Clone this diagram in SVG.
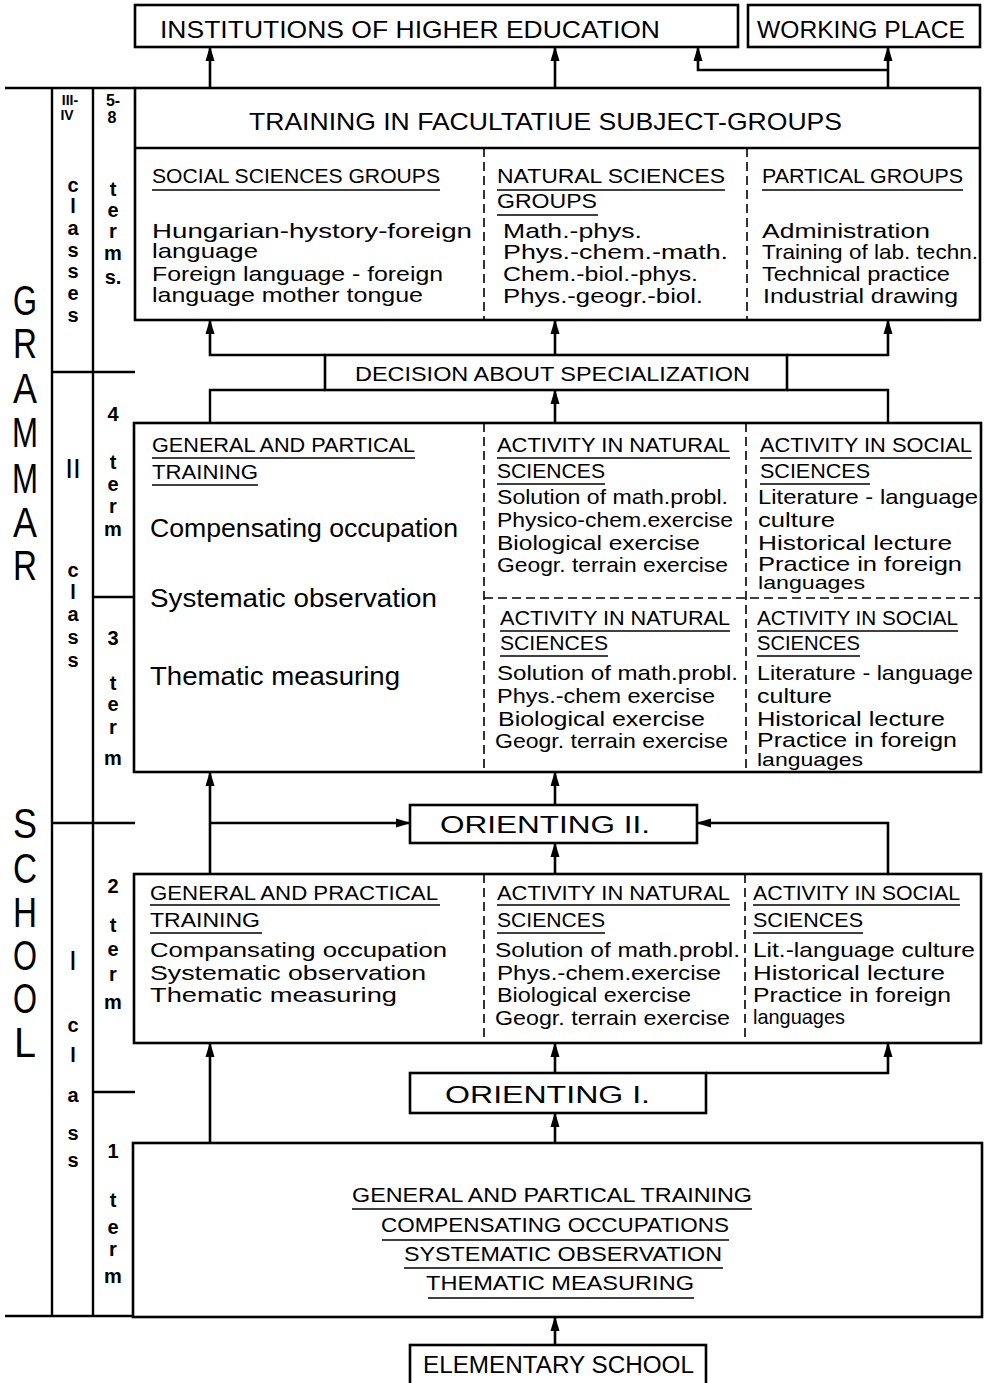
<svg xmlns="http://www.w3.org/2000/svg" width="985" height="1383" viewBox="0 0 985 1383">
<defs>
<marker id="ah" markerUnits="userSpaceOnUse" markerWidth="15" markerHeight="10" refX="14" refY="5" orient="auto">
<path d="M0,0.5 L15,5 L0,9.5 z" fill="#000"/>
</marker>
<style>
.bx{fill:#fff;stroke:#000;stroke-width:2.6}
.ln{fill:none;stroke:#000;stroke-width:2.4}
.ds{fill:none;stroke:#000;stroke-width:1.6;stroke-dasharray:9 5}
.ul{fill:none;stroke:#000;stroke-width:1.6}
.ar{fill:none;stroke:#000;stroke-width:2.6;marker-end:url(#ah)}
text{font-family:"Liberation Sans",Arial,sans-serif;fill:#000}
.h{font-size:24px}
.c{font-size:20px}
.b{font-size:21px}
.big{font-size:26px}
.G{font-size:42px;text-anchor:middle}
.lb{font-size:20px;font-weight:bold;text-anchor:middle}
.sm{font-size:14px;font-weight:bold;text-anchor:middle}
</style>
</defs>
<rect width="985" height="1383" fill="#fff"/>

<g id="frame">
<path class="ln" d="M5,88 H135 M52,88 V1316 M93,88 V1316 M5,1316 H135 M52,372 H135 M93,597 H135 M52,823 H135 M93,1092 H135"/>
<g id="school-label">
<text class="G" x="25" y="315" textLength="24" lengthAdjust="spacingAndGlyphs">G</text>
<text class="G" x="25" y="358" textLength="24" lengthAdjust="spacingAndGlyphs">R</text>
<text class="G" x="25" y="403" textLength="24" lengthAdjust="spacingAndGlyphs">A</text>
<text class="G" x="25" y="447" textLength="26" lengthAdjust="spacingAndGlyphs">M</text>
<text class="G" x="25" y="493" textLength="26" lengthAdjust="spacingAndGlyphs">M</text>
<text class="G" x="25" y="537" textLength="24" lengthAdjust="spacingAndGlyphs">A</text>
<text class="G" x="25" y="580" textLength="24" lengthAdjust="spacingAndGlyphs">R</text>
<text class="G" x="25" y="838" textLength="24" lengthAdjust="spacingAndGlyphs">S</text>
<text class="G" x="25" y="883" textLength="24" lengthAdjust="spacingAndGlyphs">C</text>
<text class="G" x="25" y="927" textLength="24" lengthAdjust="spacingAndGlyphs">H</text>
<text class="G" x="25" y="970" textLength="24" lengthAdjust="spacingAndGlyphs">O</text>
<text class="G" x="25" y="1013" textLength="24" lengthAdjust="spacingAndGlyphs">O</text>
<text class="G" x="25" y="1057" textLength="22" lengthAdjust="spacingAndGlyphs">L</text>
</g>
<g id="class-labels">
<text class="sm" x="70" y="105">III-</text>
<text class="sm" x="67" y="120">IV</text>
<text class="lb" x="73" y="192">c</text>
<text class="lb" x="73" y="213">l</text>
<text class="lb" x="73" y="235">a</text>
<text class="lb" x="73" y="257">s</text>
<text class="lb" x="73" y="278">s</text>
<text class="lb" x="73" y="300">e</text>
<text class="lb" x="73" y="322">s</text>
<text class="lb" x="73" y="478" style="font-size:28px;font-weight:normal">II</text>
<text class="lb" x="73" y="577">c</text>
<text class="lb" x="73" y="599">l</text>
<text class="lb" x="73" y="621">a</text>
<text class="lb" x="73" y="644">s</text>
<text class="lb" x="73" y="667">s</text>
<text class="lb" x="73" y="970" style="font-size:28px;font-weight:normal">I</text>
<text class="lb" x="73" y="1032">c</text>
<text class="lb" x="73" y="1062">l</text>
<text class="lb" x="73" y="1102">a</text>
<text class="lb" x="73" y="1140">s</text>
<text class="lb" x="73" y="1167">s</text>
</g>
<g id="term-labels">
<text class="sm" x="113" y="106" style="font-size:16px">5-</text>
<text class="sm" x="112" y="123" style="font-size:16px">8</text>
<text class="lb" x="113" y="196">t</text>
<text class="lb" x="113" y="217">e</text>
<text class="lb" x="113" y="238">r</text>
<text class="lb" x="113" y="260">m</text>
<text class="lb" x="113" y="284">s.</text>
<text class="lb" x="113" y="421">4</text>
<text class="lb" x="113" y="469">t</text>
<text class="lb" x="113" y="491">e</text>
<text class="lb" x="113" y="513">r</text>
<text class="lb" x="113" y="536">m</text>
<text class="lb" x="113" y="645">3</text>
<text class="lb" x="113" y="690">t</text>
<text class="lb" x="113" y="711">e</text>
<text class="lb" x="113" y="734">r</text>
<text class="lb" x="113" y="765">m</text>
<text class="lb" x="113" y="893">2</text>
<text class="lb" x="113" y="932">t</text>
<text class="lb" x="113" y="956">e</text>
<text class="lb" x="113" y="981">r</text>
<text class="lb" x="113" y="1009">m</text>
<text class="lb" x="113" y="1158">1</text>
<text class="lb" x="113" y="1207">t</text>
<text class="lb" x="113" y="1234">e</text>
<text class="lb" x="113" y="1256">r</text>
<text class="lb" x="113" y="1283">m</text>
</g>
</g>

<g id="connectors">
<path class="ar" d="M210,88 V47"/>
<path class="ar" d="M555,88 V47"/>
<path class="ar" d="M888,88 V47"/>
<path class="ar" d="M888,70 H698 V47"/>
<path class="ar" d="M325,355 H210 V320"/>
<path class="ar" d="M787,355 H888 V320"/>
<path class="ar" d="M555,355 V320"/>
<path class="ln" d="M210,423 V390 H325"/>
<path class="ln" d="M888,423 V390 H787"/>
<path class="ar" d="M555,423 V390"/>
<path class="ar" d="M625,607 V578"/>
<path class="ar" d="M881,608 V579"/>
<path class="ar" d="M210,874 V772"/>
<path class="ar" d="M210,823 H410"/>
<path class="ar" d="M888,874 V823 H697"/>
<path class="ar" d="M555,805 V772"/>
<path class="ar" d="M555,874 V843"/>
<path class="ar" d="M210,1143 V1043"/>
<path class="ar" d="M555,1143 V1113"/>
<path class="ar" d="M555,1073 V1043"/>
<path class="ar" d="M706,1073 H888 V1043"/>
<path class="ar" d="M555,1345 V1317"/>
</g>

<g id="n-higher-education">
<rect class="bx" x="135" y="5" width="603" height="42"/>
<text class="h" x="160" y="38" textLength="500" lengthAdjust="spacingAndGlyphs">INSTITUTIONS OF HIGHER EDUCATION</text>
</g>
<g id="n-working-place">
<rect class="bx" x="748" y="5" width="232" height="42"/>
<text class="h" x="757" y="38" textLength="208" lengthAdjust="spacingAndGlyphs">WORKING PLACE</text>
</g>

<g id="n-facultative">
<rect class="bx" x="135" y="88" width="845" height="232"/>
<path class="ln" d="M135,148 H980"/>
<path class="ds" d="M484,148 V320 M747,148 V320"/>
<text class="h" x="249" y="130" textLength="593" lengthAdjust="spacingAndGlyphs">TRAINING IN FACULTATIUE SUBJECT-GROUPS</text>
<text class="c" x="152" y="183" textLength="288" lengthAdjust="spacingAndGlyphs">SOCIAL SCIENCES GROUPS</text>
<path class="ul" d="M152,190 H440"/>
<text class="b" x="152" y="238" textLength="320" lengthAdjust="spacingAndGlyphs">Hungarian-hystory-foreign</text>
<text class="b" x="152" y="258" textLength="106" lengthAdjust="spacingAndGlyphs">language</text>
<text class="b" x="152" y="281" textLength="291" lengthAdjust="spacingAndGlyphs">Foreign language - foreign</text>
<text class="b" x="152" y="302" textLength="271" lengthAdjust="spacingAndGlyphs">language mother tongue</text>
<text class="c" x="497" y="183" textLength="228" lengthAdjust="spacingAndGlyphs">NATURAL SCIENCES</text>
<path class="ul" d="M497,190 H725"/>
<text class="c" x="497" y="208" textLength="100" lengthAdjust="spacingAndGlyphs">GROUPS</text>
<path class="ul" d="M497,215 H598"/>
<text class="b" x="503" y="238" textLength="139" lengthAdjust="spacingAndGlyphs">Math.-phys.</text>
<text class="b" x="503" y="259" textLength="225" lengthAdjust="spacingAndGlyphs">Phys.-chem.-math.</text>
<text class="b" x="503" y="281" textLength="195" lengthAdjust="spacingAndGlyphs">Chem.-biol.-phys.</text>
<text class="b" x="503" y="303" textLength="200" lengthAdjust="spacingAndGlyphs">Phys.-geogr.-biol.</text>
<text class="c" x="762" y="183" textLength="201" lengthAdjust="spacingAndGlyphs">PARTICAL GROUPS</text>
<path class="ul" d="M762,190 H963"/>
<text class="b" x="762" y="238" textLength="168" lengthAdjust="spacingAndGlyphs">Administration</text>
<text class="b" x="762" y="259" textLength="216" lengthAdjust="spacingAndGlyphs">Training of lab. techn.</text>
<text class="b" x="762" y="281" textLength="188" lengthAdjust="spacingAndGlyphs">Technical practice</text>
<text class="b" x="763" y="303" textLength="195" lengthAdjust="spacingAndGlyphs">Industrial drawing</text>
</g>

<g id="n-decision">
<rect class="bx" x="325" y="355" width="462" height="35"/>
<text class="c" x="355" y="381" textLength="395" lengthAdjust="spacingAndGlyphs" style="font-size:21px">DECISION ABOUT SPECIALIZATION</text>
</g>

<g id="n-class2">
<rect class="bx" x="134" y="423" width="847" height="349"/>
<path class="ds" d="M484,423 V772 M746,423 V772 M484,598 H981"/>
<text class="c" x="152" y="452" textLength="263" lengthAdjust="spacingAndGlyphs">GENERAL AND PARTICAL</text>
<path class="ul" d="M152,458 H415"/>
<text class="c" x="152" y="479" textLength="106" lengthAdjust="spacingAndGlyphs">TRAINING</text>
<path class="ul" d="M152,485 H258"/>
<text class="big" x="150" y="537" textLength="308" lengthAdjust="spacingAndGlyphs">Compensating occupation</text>
<text class="big" x="150" y="607" textLength="287" lengthAdjust="spacingAndGlyphs">Systematic observation</text>
<text class="big" x="150" y="685" textLength="250" lengthAdjust="spacingAndGlyphs">Thematic measuring</text>
<text class="c" x="497" y="452" textLength="233" lengthAdjust="spacingAndGlyphs">ACTIVITY IN NATURAL</text>
<path class="ul" d="M497,458 H730"/>
<text class="c" x="497" y="478" textLength="108" lengthAdjust="spacingAndGlyphs">SCIENCES</text>
<path class="ul" d="M497,484 H605"/>
<text class="b" x="497" y="504" textLength="231" lengthAdjust="spacingAndGlyphs">Solution of math.probl.</text>
<text class="b" x="497" y="527" textLength="236" lengthAdjust="spacingAndGlyphs">Physico-chem.exercise</text>
<text class="b" x="497" y="550" textLength="203" lengthAdjust="spacingAndGlyphs">Biological exercise</text>
<text class="b" x="497" y="572" textLength="231" lengthAdjust="spacingAndGlyphs">Geogr. terrain exercise</text>
<text class="c" x="760" y="452" textLength="212" lengthAdjust="spacingAndGlyphs">ACTIVITY IN SOCIAL</text>
<path class="ul" d="M760,458 H972"/>
<text class="c" x="760" y="478" textLength="110" lengthAdjust="spacingAndGlyphs">SCIENCES</text>
<path class="ul" d="M760,484 H870"/>
<text class="b" x="758" y="504" textLength="220" lengthAdjust="spacingAndGlyphs">Literature - language</text>
<text class="b" x="758" y="527" textLength="77" lengthAdjust="spacingAndGlyphs">culture</text>
<text class="b" x="758" y="550" textLength="194" lengthAdjust="spacingAndGlyphs">Historical lecture</text>
<text class="b" x="758" y="571" textLength="204" lengthAdjust="spacingAndGlyphs">Practice in foreign</text>
<text class="b" x="758" y="589" textLength="107" lengthAdjust="spacingAndGlyphs" style="font-size:18px">languages</text>
<text class="c" x="500" y="625" textLength="230" lengthAdjust="spacingAndGlyphs">ACTIVITY IN NATURAL</text>
<path class="ul" d="M500,631 H730"/>
<text class="c" x="500" y="650" textLength="108" lengthAdjust="spacingAndGlyphs">SCIENCES</text>
<path class="ul" d="M500,656 H608"/>
<text class="b" x="497" y="680" textLength="241" lengthAdjust="spacingAndGlyphs">Solution of math.probl.</text>
<text class="b" x="497" y="703" textLength="218" lengthAdjust="spacingAndGlyphs">Phys.-chem exercise</text>
<text class="b" x="498" y="726" textLength="207" lengthAdjust="spacingAndGlyphs">Biological exercise</text>
<text class="b" x="495" y="748" textLength="233" lengthAdjust="spacingAndGlyphs">Geogr. terrain exercise</text>
<text class="c" x="757" y="625" textLength="201" lengthAdjust="spacingAndGlyphs">ACTIVITY IN SOCIAL</text>
<path class="ul" d="M757,631 H958"/>
<text class="c" x="757" y="650" textLength="103" lengthAdjust="spacingAndGlyphs">SCIENCES</text>
<path class="ul" d="M757,656 H860"/>
<text class="b" x="757" y="680" textLength="216" lengthAdjust="spacingAndGlyphs">Literature - language</text>
<text class="b" x="757" y="703" textLength="75" lengthAdjust="spacingAndGlyphs">culture</text>
<text class="b" x="757" y="726" textLength="188" lengthAdjust="spacingAndGlyphs">Historical lecture</text>
<text class="b" x="757" y="747" textLength="200" lengthAdjust="spacingAndGlyphs">Practice in foreign</text>
<text class="b" x="757" y="766" textLength="106" lengthAdjust="spacingAndGlyphs" style="font-size:18px">languages</text>
</g>

<g id="n-orienting2">
<rect class="bx" x="410" y="805" width="287" height="38"/>
<text class="b" x="440" y="833" textLength="210" lengthAdjust="spacingAndGlyphs" style="font-size:23px">ORIENTING  II.</text>
</g>

<g id="n-class1">
<rect class="bx" x="134" y="874" width="847" height="169"/>
<path class="ds" d="M484,874 V1043 M745,874 V1043"/>
<text class="c" x="150" y="900" textLength="288" lengthAdjust="spacingAndGlyphs">GENERAL AND PRACTICAL</text>
<path class="ul" d="M150,905 H440"/>
<text class="c" x="150" y="927" textLength="110" lengthAdjust="spacingAndGlyphs">TRAINING</text>
<path class="ul" d="M150,933 H262"/>
<text class="b" x="150" y="957" textLength="297" lengthAdjust="spacingAndGlyphs">Compansating occupation</text>
<text class="b" x="150" y="980" textLength="276" lengthAdjust="spacingAndGlyphs">Systematic observation</text>
<text class="b" x="150" y="1002" textLength="247" lengthAdjust="spacingAndGlyphs">Thematic measuring</text>
<text class="c" x="497" y="900" textLength="233" lengthAdjust="spacingAndGlyphs">ACTIVITY IN NATURAL</text>
<path class="ul" d="M497,905 H730"/>
<text class="c" x="497" y="927" textLength="108" lengthAdjust="spacingAndGlyphs">SCIENCES</text>
<path class="ul" d="M497,933 H605"/>
<text class="b" x="495" y="957" textLength="245" lengthAdjust="spacingAndGlyphs">Solution of math.probl.</text>
<text class="b" x="497" y="980" textLength="224" lengthAdjust="spacingAndGlyphs">Phys.-chem.exercise</text>
<text class="b" x="497" y="1002" textLength="194" lengthAdjust="spacingAndGlyphs">Biological exercise</text>
<text class="b" x="495" y="1025" textLength="235" lengthAdjust="spacingAndGlyphs">Geogr. terrain exercise</text>
<text class="c" x="753" y="900" textLength="207" lengthAdjust="spacingAndGlyphs">ACTIVITY IN SOCIAL</text>
<path class="ul" d="M753,905 H960"/>
<text class="c" x="753" y="927" textLength="110" lengthAdjust="spacingAndGlyphs">SCIENCES</text>
<path class="ul" d="M753,933 H863"/>
<text class="b" x="753" y="957" textLength="222" lengthAdjust="spacingAndGlyphs">Lit.-language culture</text>
<text class="b" x="753" y="980" textLength="192" lengthAdjust="spacingAndGlyphs">Historical lecture</text>
<text class="b" x="753" y="1002" textLength="198" lengthAdjust="spacingAndGlyphs">Practice in foreign</text>
<text class="b" x="753" y="1024" textLength="92" lengthAdjust="spacingAndGlyphs">languages</text>
</g>

<g id="n-orienting1">
<rect class="bx" x="410" y="1073" width="296" height="40"/>
<text class="b" x="445" y="1103" textLength="205" lengthAdjust="spacingAndGlyphs" style="font-size:23px">ORIENTING  I.</text>
</g>

<g id="n-term1">
<rect class="bx" x="133" y="1143" width="849" height="174"/>
<text class="c" x="352" y="1202" textLength="400" lengthAdjust="spacingAndGlyphs">GENERAL AND PARTICAL TRAINING</text>
<path class="ul" d="M352,1209 H752"/>
<text class="c" x="381" y="1232" textLength="348" lengthAdjust="spacingAndGlyphs">COMPENSATING OCCUPATIONS</text>
<path class="ul" d="M382,1240 H729"/>
<text class="c" x="404" y="1261" textLength="318" lengthAdjust="spacingAndGlyphs">SYSTEMATIC OBSERVATION</text>
<path class="ul" d="M404,1268 H723"/>
<text class="c" x="426" y="1290" textLength="268" lengthAdjust="spacingAndGlyphs">THEMATIC MEASURING</text>
<path class="ul" d="M428,1298 H694"/>
</g>

<g id="n-elementary">
<rect class="bx" x="410" y="1345" width="296" height="50"/>
<text class="b" x="423" y="1373" textLength="271" lengthAdjust="spacingAndGlyphs" style="font-size:23px">ELEMENTARY SCHOOL</text>
</g>
</svg>
